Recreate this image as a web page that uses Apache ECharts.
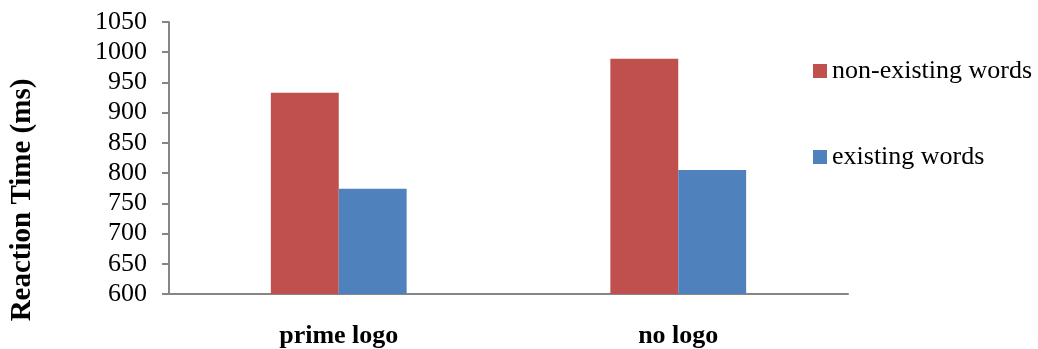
<!DOCTYPE html>
<html>
<head>
<meta charset="utf-8">
<script src="https://cdn.jsdelivr.net/npm/echarts@6/dist/echarts.min.js"></script>
<style>
  html, body { margin: 0; padding: 0; background: #fff; }
  #chart { width: 1038px; height: 349px; }
</style>
</head>
<body>
<div id="chart"></div>
<script>
// Mean reaction times per logo condition
const categories = ['prime logo', 'no logo'];
const seriesNames = ['non-existing words', 'existing words'];
const nonExisting = [933, 989];
const existing = [774, 805];
const yTicks = { min: 600, max: 1050, step: 50 };

const serif = '"Liberation Serif", "Times New Roman", serif';
const chart = echarts.init(document.getElementById('chart'), null, { renderer: 'canvas' });

chart.setOption({
  animation: false,
  backgroundColor: '#ffffff',
  textStyle: { fontFamily: serif },
  grid: { left: 169, right: 190, top: 22, bottom: 54, containLabel: false },
  legend: {
    orient: 'vertical',
    left: 813,
    top: 58,
    padding: 0,
    itemWidth: 14,
    itemHeight: 14,
    itemGap: 60,
    icon: 'rect',
    textStyle: { fontFamily: serif, fontSize: 26, color: '#000' },
    data: seriesNames
  },
  xAxis: {
    type: 'category',
    data: categories,
    axisLine: { lineStyle: { color: '#868686', width: 2 } },
    axisTick: { show: false },
    axisLabel: { fontFamily: serif, fontSize: 26, fontWeight: 'bold', color: '#000', margin: 29 }
  },
  yAxis: {
    type: 'value',
    min: yTicks.min,
    max: yTicks.max,
    interval: yTicks.step,
    splitLine: { show: false },
    axisLine: { show: true, lineStyle: { color: '#868686', width: 2 } },
    axisTick: { show: true, length: 7, lineStyle: { color: '#868686', width: 2 } },
    axisLabel: {
      fontFamily: serif, fontSize: 26, color: '#000', margin: 22,
      formatter: (v) => String(v)
    }
  },
  graphic: [{
    type: 'text',
    x: 23,
    y: 200,
    rotation: Math.PI / 2,
    style: {
      text: 'Reaction Time (ms)',
      font: 'bold 29px ' + serif,
      fill: '#000',
      align: 'center',
      verticalAlign: 'middle'
    }
  }],
  series: [
    {
      name: seriesNames[0],
      type: 'bar',
      data: nonExisting,
      barWidth: '20%',
      barGap: '0%',
      itemStyle: { color: '#C0504D' }
    },
    {
      name: seriesNames[1],
      type: 'bar',
      data: existing,
      barWidth: '20%',
      barGap: '0%',
      itemStyle: { color: '#4F81BD' }
    }
  ]
});
</script>
</body>
</html>
